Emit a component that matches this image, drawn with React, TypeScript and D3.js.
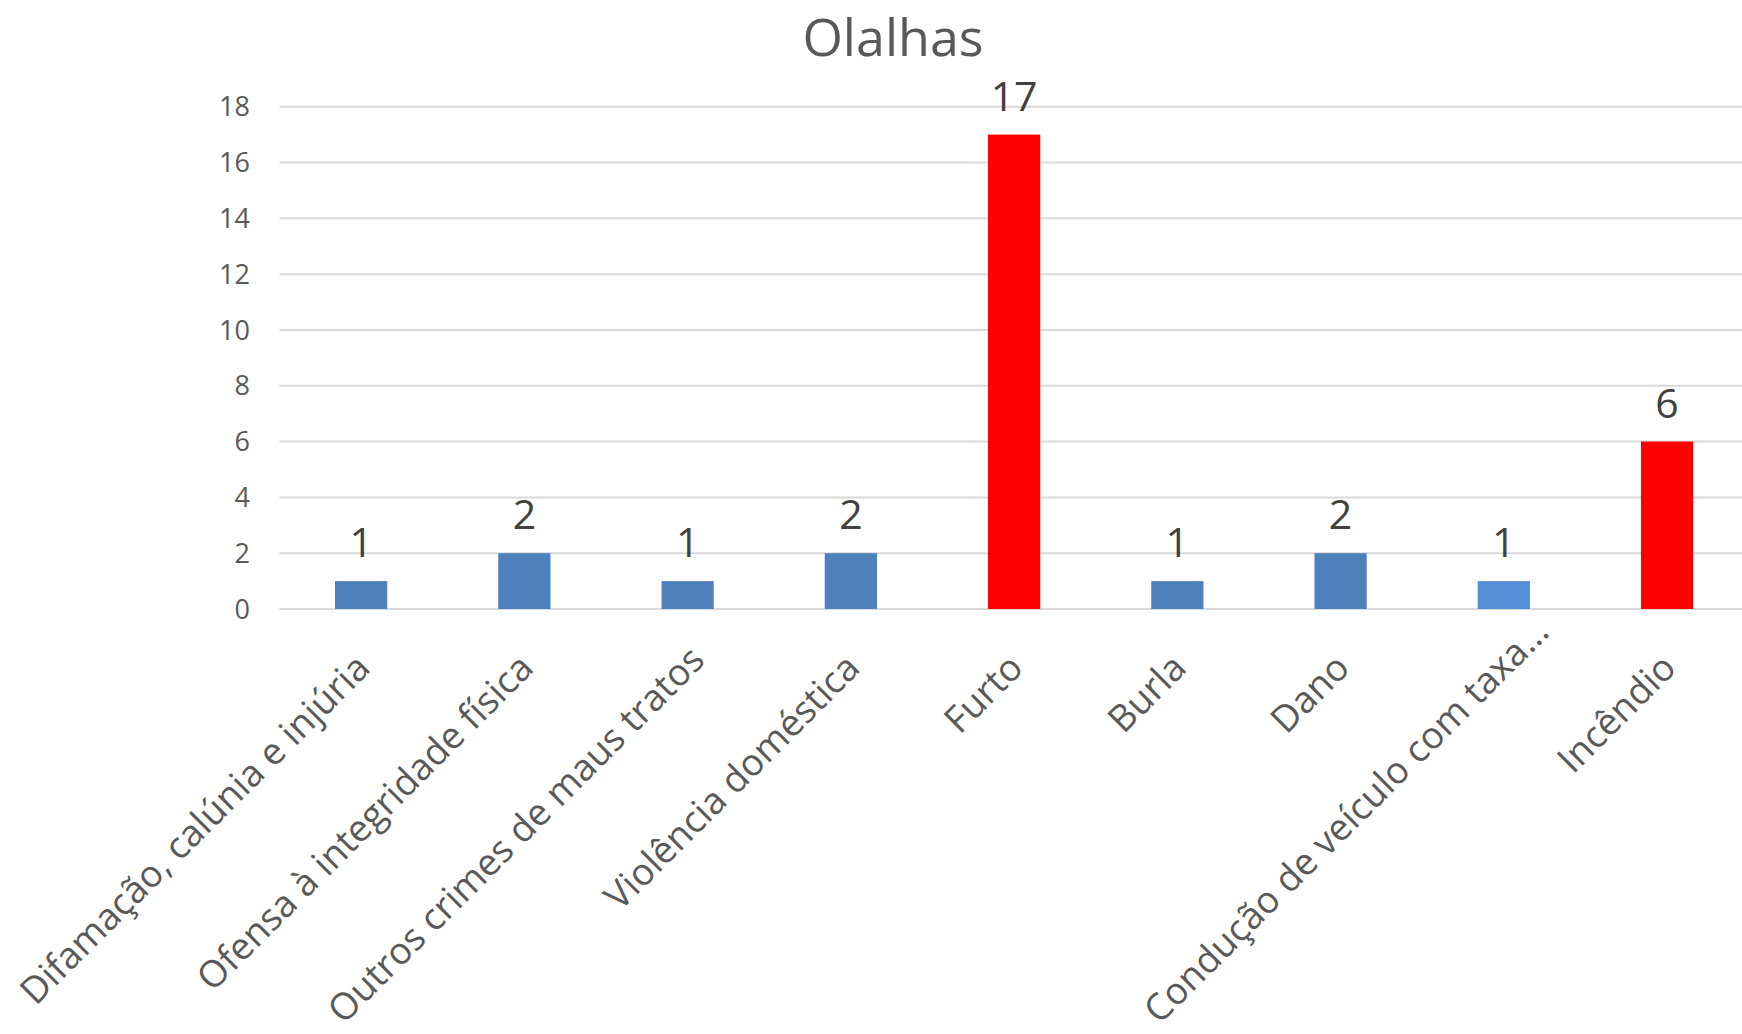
import React, { useLayoutEffect, useRef, useState } from "react";
import * as d3 from "d3";

const categories = [
  "Difamação, calúnia e injúria",
  "Ofensa à integridade física",
  "Outros crimes de maus tratos",
  "Violência doméstica",
  "Furto",
  "Burla",
  "Dano",
  "Condução de veículo com taxa…",
  "Incêndio",
];
const values = [1, 2, 1, 2, 17, 1, 2, 1, 6];
const barColors = ["#4F81BD", "#4F81BD", "#4F81BD", "#4F81BD", "#FF0000", "#4F81BD", "#4F81BD", "#558ED5", "#FF0000"];
const yTicks = [0, 2, 4, 6, 8, 10, 12, 14, 16, 18];
const title = "Olalhas";

const W = 1742;
const H = 1034;
const plotLeft = 279.5;
const plotRight = 1748.7;
const plotTop = 106.7;
const plotBottom = 609;
const FONT = "'Open Sans', 'Noto Sans', sans-serif";

export default function App() {
  const x = d3
    .scaleBand<string>()
    .domain(categories)
    .range([plotLeft, plotRight])
    .paddingInner(0.68)
    .paddingOuter(0.34);
  const y = d3.scaleLinear().domain([0, 18]).range([plotBottom, plotTop]);

  const labelRefs = useRef<(SVGTextElement | null)[]>([]);
  const [shifts, setShifts] = useState<number[]>(categories.map(() => 0));

  useLayoutEffect(() => {
    const s = labelRefs.current.map((el) => {
      if (!el) return 0;
      const r = el.getBoundingClientRect();
      const over = r.bottom - (H - 1);
      return over > 0 ? over : 0;
    });
    if (s.some((v) => v > 0.5)) setShifts(s);
  }, []);

  return (
    <svg
      width={W}
      height={H}
      style={{ position: "absolute", left: 0, top: 0, background: "#fff" }}
      fontFamily={FONT}
    >
      <rect x={0} y={0} width={W} height={H} fill="#fff" />
      <text x={893} y={56} textAnchor="middle" fontSize={52} fill="#595959">
        {title}
      </text>
      {yTicks.map((t) => (
        <g key={t}>
          <line x1={plotLeft} x2={W} y1={y(t)} y2={y(t)} stroke="#D9D9D9" strokeWidth={2} />
          <text x={250} y={y(t)} dy="0.36em" textAnchor="end" fontSize={27} fill="#595959">
            {t}
          </text>
        </g>
      ))}
      {categories.map((c, i) => {
        const bx = x(c)!;
        const bw = x.bandwidth();
        const cx = bx + bw / 2;
        const sh = shifts[i];
        return (
          <g key={c}>
            <rect x={bx} y={y(values[i])} width={bw} height={y(0) - y(values[i])} fill={barColors[i]} />
            <text x={cx} y={y(values[i]) - 24} textAnchor="middle" fontSize={41} fill="#404040">
              {values[i]}
            </text>
            <text
              ref={(el) => {
                labelRefs.current[i] = el;
              }}
              transform={`translate(${cx + 11 + sh},${plotBottom + 61 - sh}) rotate(-45)`}
              textAnchor="end"
              fontSize={37}
              fill="#595959"
            >
              {c}
            </text>
          </g>
        );
      })}
    </svg>
  );
}
